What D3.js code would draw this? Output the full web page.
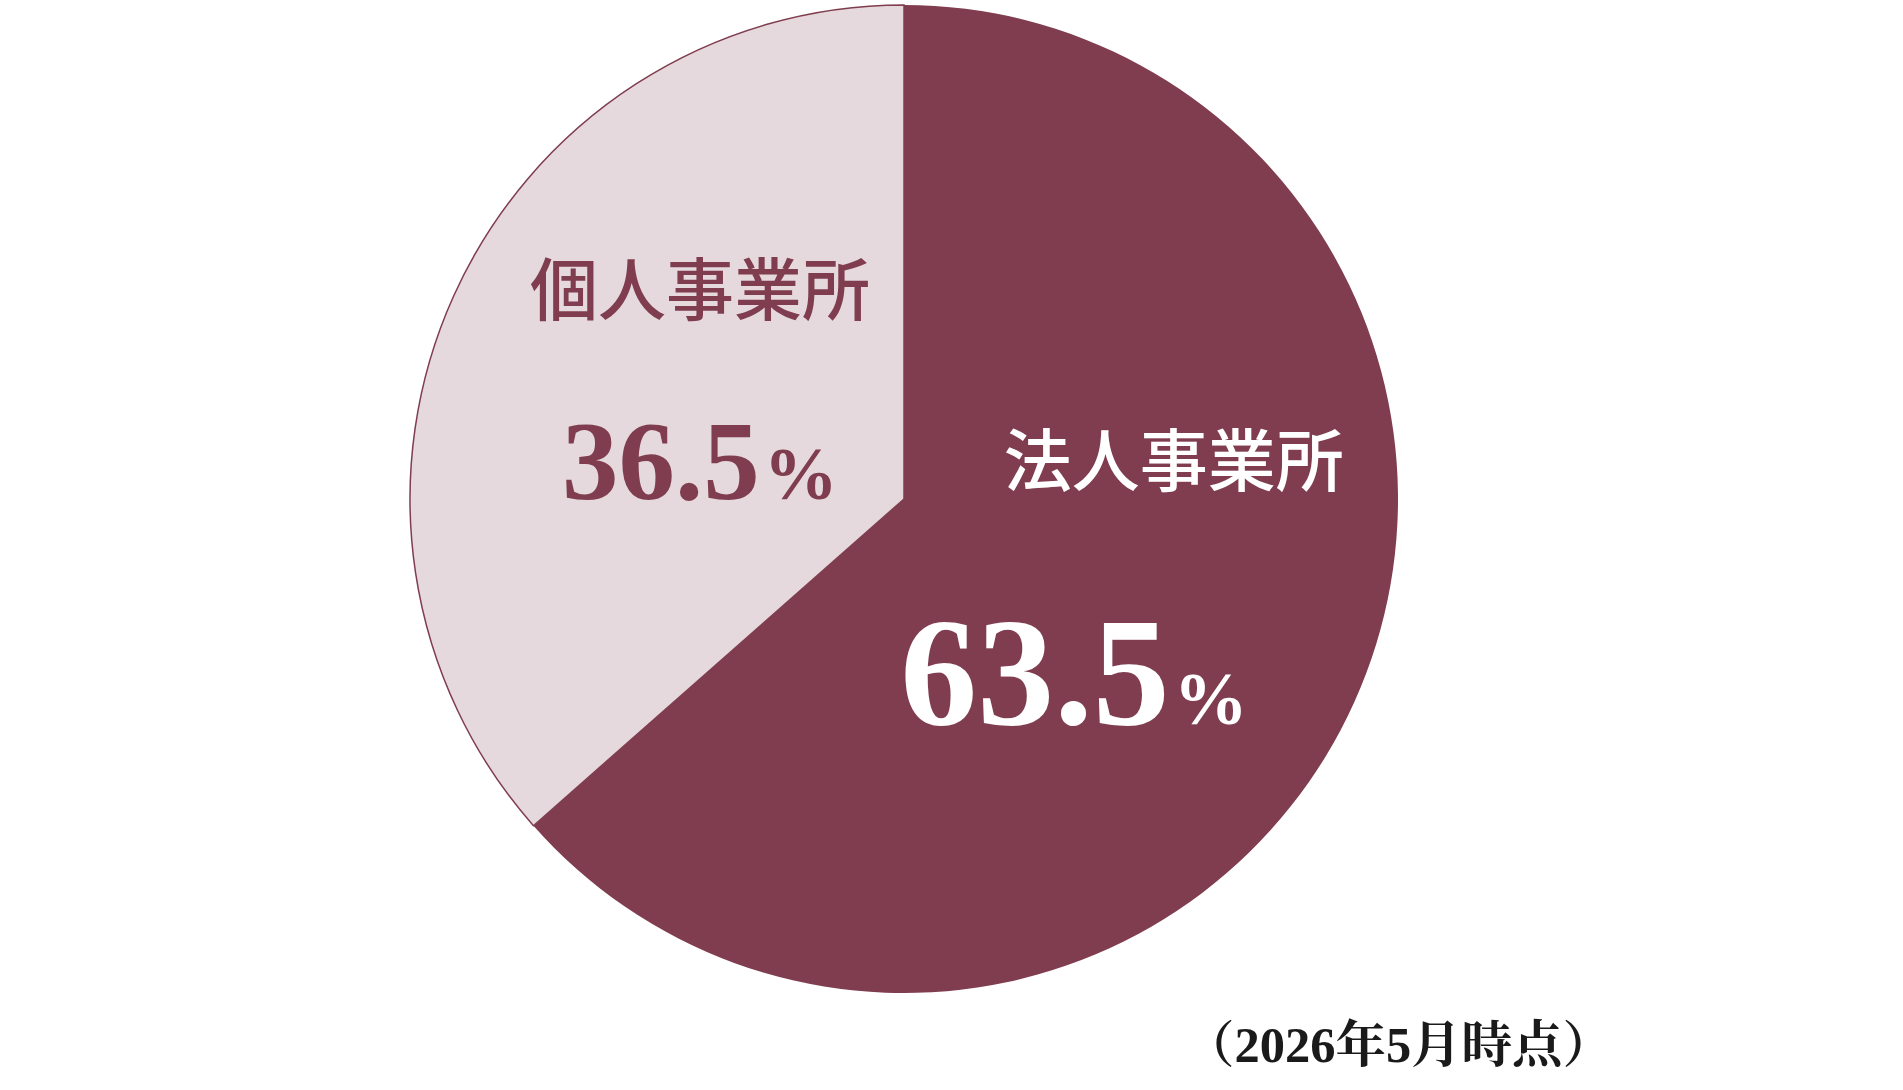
<!DOCTYPE html>
<html>
<head>
<meta charset="utf-8">
<script src="https://cdn.jsdelivr.net/npm/d3@7"></script>
<style>
  html, body { margin: 0; padding: 0; background: #ffffff; }
  svg { display: block; }
  .num, .num tspan { font-family: 'Liberation Serif', 'Times New Roman', Tinos; font-weight: 700; }
  .name { font-family: 'Noto Sans CJK JP'; font-weight: 500; }
  .note { font-family: 'Liberation Serif', 'Noto Serif CJK JP', 'Noto Sans CJK JP'; font-weight: 700; }
</style>
</head>
<body>
<svg id="chart" width="1903" height="1090"></svg>
<script>
// ---- data ----
const categories = ["法人事業所", "個人事業所"];
const values = [63.5, 36.5];
const valueLabels = ["63.5", "36.5"];
const note = "（2026年5月時点）";

// ---- styling / layout ----
const cx = 904, cy = 499, R = 494;
const fills = ["#7f3d4f", "#e5d9dd"];
const textColors = ["#ffffff", "#7f3d4f"];
// label anchor offsets relative to the pie centre (fractions of radius)
const labelPos = [
  { name: [0.546, -0.026], value: [0.344, 0.456] },
  { name: [-0.413, -0.372], value: [-0.413, 0.0] }
];

const svg = d3.select("#chart");
const g = svg.append("g").attr("transform", `translate(${cx},${cy})`);

const pie = d3.pie().sort(null).value(d => d.value).startAngle(0).endAngle(2 * Math.PI);
const data = categories.map((c, i) => ({ name: c, value: values[i], label: valueLabels[i], i }));
const arcs = pie(data);
const arc = d3.arc().innerRadius(0).outerRadius(R);

g.selectAll("path.slice")
  .data(arcs)
  .enter().append("path")
  .attr("class", "slice")
  .attr("d", arc)
  .attr("fill", d => fills[d.data.i])
  .attr("stroke", d => d.data.i === 1 ? fills[0] : "none")
  .attr("stroke-width", 1.5);

// category names
g.selectAll("text.name")
  .data(arcs)
  .enter().append("text")
  .attr("class", "name")
  .attr("x", d => labelPos[d.data.i].name[0] * R)
  .attr("y", d => labelPos[d.data.i].name[1] * R)
  .attr("text-anchor", "middle")
  .attr("font-size", 68)
  .attr("fill", d => textColors[d.data.i])
  .text(d => d.data.name);

// percentage values
const vt = g.selectAll("text.num")
  .data(arcs)
  .enter().append("text")
  .attr("class", "num")
  .attr("x", d => labelPos[d.data.i].value[0] * R)
  .attr("y", d => labelPos[d.data.i].value[1] * R)
  .attr("text-anchor", "middle")
  .attr("fill", d => textColors[d.data.i]);
vt.append("tspan")
  .attr("font-size", d => d.data.i === 0 ? 154 : 113)
  .text(d => d.data.label);
vt.append("tspan")
  .attr("font-size", 74)
  .attr("dx", 4)
  .text("%");

// footnote
svg.append("text")
  .attr("class", "note")
  .attr("x", 1184)
  .attr("y", 1062)
  .attr("font-size", 50)
  .attr("fill", "#1a1a1a")
  .attr("textLength", 429)
  .attr("lengthAdjust", "spacingAndGlyphs")
  .text(note);
</script>
</body>
</html>
